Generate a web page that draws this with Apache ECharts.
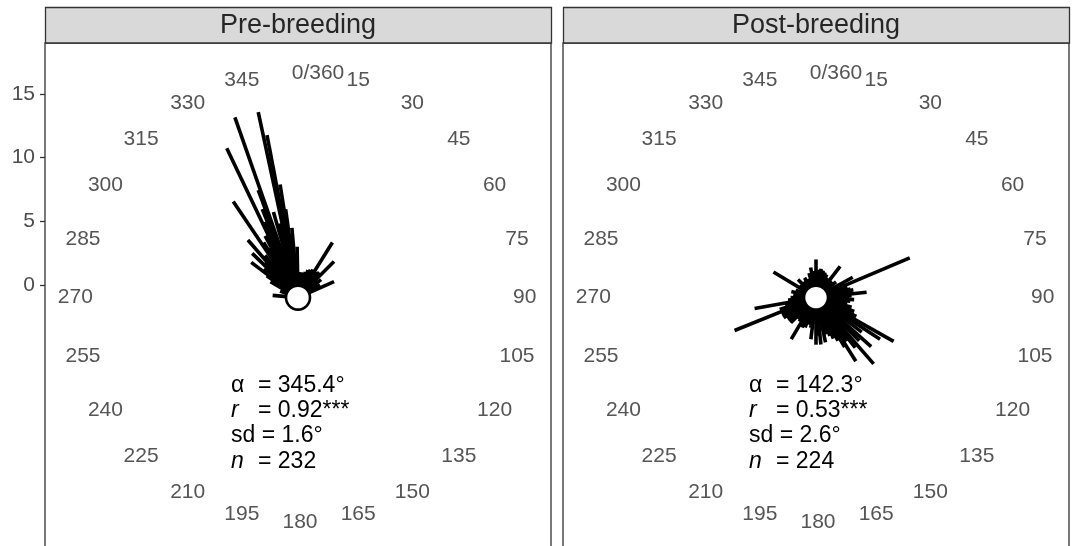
<!DOCTYPE html>
<html><head><meta charset="utf-8">
<script src="https://cdn.jsdelivr.net/npm/echarts@6/dist/echarts.min.js"></script>
<style>html,body{margin:0;padding:0;background:#fff}#c{width:1074px;height:546px}</style>
</head><body><div id="c"></div>
<script>
// ---------------- data ----------------
const panels = ['Pre-breeding', 'Post-breeding'];
const yTicks = [0, 5, 10, 15];
const angleTicks = [0, 15, 30, 45, 60, 75, 90, 105, 120, 135, 150, 165, 180, 195, 210, 225, 240, 255, 270, 285, 300, 315, 330, 345];
const angleTickLabels = ['0/360', '15', '30', '45', '60', '75', '90', '105', '120', '135', '150', '165', '180', '195', '210', '225', '240', '255', '270', '285', '300', '315', '330', '345'];

// bearings (degrees, clockwise from north) and lengths of each vector
const preAngles  = [275, 290, 300, 305, 307, 310, 314, 316, 319, 322, 326, 328, 330, 332, 334.5, 336, 338, 339.7, 340.7, 344, 346, 347.9, 349.2, 351, 352, 353, 355, 357, 359, 2, 6, 12, 16, 20, 24, 28, 32, 36, 40, 45, 52, 60, 66];
const preLengths = [2.0, 1.5, 2.5, 3.0, 4.6, 3.5, 5.0, 3.8, 6.0, 4.2, 9.1, 5.1, 4.5, 5.5, 13.0, 6.5, 7.5, 9.0, 15.0, 7.0, 6.0, 14.9, 13.0, 9.0, 7.0, 5.0, 5.5, 3.0, 4.0, 2.0, 2.0, 2.0, 2.1, 2.3, 2.4, 2.5, 5.1, 2.5, 2.6, 4.0, 2.3, 2.0, 3.1];

const postAngles  = [0, 5, 10, 15, 20, 25, 30, 37.7, 45, 52, 61, 63, 67, 72, 76, 78, 81, 84, 87, 90, 93, 96, 100, 105, 110, 115, 119.4, 123, 127, 131.7, 135, 139, 142, 145, 148, 150, 153, 157, 160, 165, 168, 174, 176, 180, 187, 190, 195, 200, 205, 210.8, 215, 220, 225, 228, 233, 238, 243, 248, 252, 256, 260, 265, 270, 277, 284, 290, 301, 306, 315, 322, 330, 337, 344, 350, 355];
const postLengths = [3.0, 2.2, 2.3, 2.2, 2.1, 2.0, 1.8, 3.1, 1.8, 2.0, 3.3, 2.4, 8.0, 2.6, 2.8, 3.0, 2.9, 4.0, 2.8, 2.6, 3.0, 2.7, 2.5, 2.9, 3.2, 3.5, 7.0, 6.0, 4.5, 5.8, 4.8, 6.9, 5.0, 4.2, 5.9, 4.5, 3.8, 3.5, 3.2, 3.0, 3.6, 3.7, 3.0, 3.7, 3.3, 2.4, 2.2, 2.5, 2.6, 3.8, 2.3, 2.2, 2.8, 2.8, 2.8, 3.0, 3.0, 6.9, 3.0, 2.5, 4.9, 2.2, 2.0, 1.8, 2.0, 1.7, 3.9, 1.6, 2.0, 1.6, 1.8, 1.6, 2.0, 2.4, 2.1];

const statNames = ['α', 'r', 'sd', 'n'];
const preStats  = ['345.4°', '0.92***', '1.6°', '232'];
const postStats = ['142.3°', '0.53***', '2.6°', '224'];

// ---------------- chart ----------------
const FONT = '"Liberation Sans", Arial, Helvetica, sans-serif';
const CX = 0, CY = -1;          // centre of each rose in axis units
const LR = 17.65;               // radius of the bearing labels in axis units
const chart = echarts.init(document.getElementById('c'));

function renderSeg(params, api) {
  const a = api.value(0) * Math.PI / 180, L = api.value(1);
  const p0 = api.coord([CX, CY]);
  const p1 = api.coord([CX + L * Math.sin(a), CY + L * Math.cos(a)]);
  return { type: 'line', shape: { x1: p0[0], y1: p0[1], x2: p1[0], y2: p1[1] },
           style: { stroke: '#000', lineWidth: 3.6, lineCap: 'butt' } };
}
function renderLab(params, api) {
  const i = api.value(1);
  const a = api.value(0) * Math.PI / 180;
  const p = api.coord([CX + LR * Math.sin(a), CY + LR * Math.cos(a)]);
  return { type: 'text', x: p[0] + (i === 0 ? 20 : 2), y: p[1],
           style: { text: angleTickLabels[i], font: '21px ' + FONT, fill: '#555', align: 'center', verticalAlign: 'middle' } };
}

const grids = [], xAxes = [], yAxes = [], series = [];
const sets = [[preAngles, preLengths], [postAngles, postLengths]];
panels.forEach((p, g) => {
  grids.push({ left: g === 0 ? 45 : 563, top: 43, width: 506, height: 509.2, show: true,
               outerBoundsMode: 'none', containLabel: false,
               borderColor: '#333', borderWidth: 1.3, backgroundColor: '#fff' });
  xAxes.push({ gridIndex: g, type: 'value', min: -19.875, max: 19.875, show: false });
  yAxes.push({ gridIndex: g, type: 'value', min: -21, max: 19, show: g === 0, position: 'left',
               axisLine: { show: false, onZero: false }, splitLine: { show: false },
               axisTick: { show: true, customValues: yTicks, length: 5, lineStyle: { color: '#333', width: 1.3 } },
               axisLabel: { customValues: yTicks, fontSize: 21, color: '#4d4d4d', margin: 10, fontFamily: FONT } });
  const [ang, len] = sets[g];
  series.push({ type: 'custom', xAxisIndex: g, yAxisIndex: g, renderItem: renderSeg, z: 2, silent: true,
                data: ang.map((a, i) => [a, len[i]]) });
  series.push({ type: 'scatter', xAxisIndex: g, yAxisIndex: g, data: [[CX, CY]], symbolSize: 24, z: 3, silent: true,
                itemStyle: { color: '#fff', borderColor: '#000', borderWidth: 2.6, opacity: 1 } });
  series.push({ type: 'custom', xAxisIndex: g, yAxisIndex: g, renderItem: renderLab, z: 1, silent: true,
                data: angleTicks.map((a, i) => [a, i]) });
});

chart.setOption({ animation: false, grid: grids, xAxis: xAxes, yAxis: yAxes, series: series });

// strips and statistics text
const graphic = [];
const stats = [preStats, postStats];
panels.forEach((p, g) => {
  const c = chart.convertToPixel({ gridIndex: g }, [CX, CY]);
  const left = g === 0 ? 45 : 563;
  graphic.push({ type: 'rect', shape: { x: left + 0.5, y: 7.5, width: 506, height: 35.5 },
                 style: { fill: '#d9d9d9', stroke: '#333', lineWidth: 1.3 }, z: 10 });
  graphic.push({ type: 'text', x: left + 253, y: 26, z: 11,
                 style: { text: p, font: '27px ' + FONT, fill: '#262626', align: 'center', verticalAlign: 'middle' } });
  const rows = [88, 113, 138.5, 164];
  statNames.forEach((n, k) => {
    const italic = (n === 'r' || n === 'n');
    const lab = n === 'sd' ? 'sd = ' + stats[g][k] : n;
    graphic.push({ type: 'text', x: c[0] - 67, y: c[1] + rows[k], z: 11,
                   style: { text: lab, font: (italic ? 'italic ' : '') + '23px ' + FONT, fill: '#000', align: 'left', verticalAlign: 'middle' } });
    if (n !== 'sd') {
      graphic.push({ type: 'text', x: c[0] - 40, y: c[1] + rows[k], z: 11,
                     style: { text: '= ' + stats[g][k], font: '23px ' + FONT, fill: '#000', align: 'left', verticalAlign: 'middle' } });
    }
  });
});
chart.setOption({ graphic: graphic });
</script>
</body></html>
